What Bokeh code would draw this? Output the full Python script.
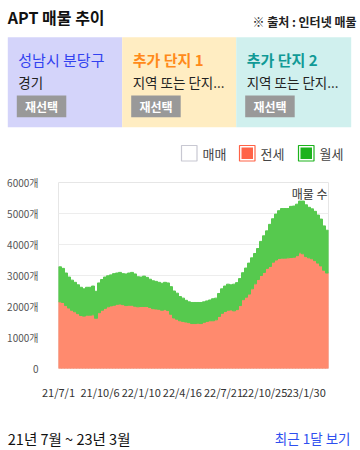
from bokeh.plotting import figure
from bokeh.models import Range1d, FixedTicker, ColumnDataSource
from bokeh.layouts import column
from bokeh.embed import file_html
from bokeh.resources import INLINE
from bokeh.core.properties import value

FONT = "Noto Sans CJK KR"

# ---------------- texts ----------------
TITLE = "APT 매물 추이"
SOURCE_NOTE = "※ 출처 : 인터넷 매물"
PANEL_TITLES = ["성남시 분당구", "추가 단지 1", "추가 단지 2"]
PANEL_SUBS = ["경기", "지역 또는 단지...", "지역 또는 단지..."]
PANEL_BG = ["#D4D4FA", "#FFEDC2", "#D0F0EE"]
PANEL_FG = ["#3242F0", "#FF8A1A", "#109A96"]
PANEL_STYLE = ["normal", "bold", "bold"]
BUTTON_TEXT = "재선택"
PERIOD_TEXT = "21년 7월 ~ 23년 3월"
LINK_TEXT = "최근 1달 보기"
AXIS_TITLE = "매물 수"

SERIES = ["매매", "전세", "월세"]
SWATCH_FILL = ["#FFFFFF", "#FF6347", "#1DB31D"]
SWATCH_LINE = ["#C8C8D2", "#FF6347", "#1DB31D"]
AREA_COLORS = ["#FF8A6E", "#56C94E"]

# ---------------- axes ----------------
TICK_DAYS = [0, 97, 193, 289, 385, 481, 578]
TICK_LABELS = ["21/7/1", "21/10/6", "22/1/10", "22/4/16", "22/7/21", "22/10/25", "23/1/30"]
Y_TICKS = [0, 1000, 2000, 3000, 4000, 5000, 6000]
Y_LABELS = ["0", "1000개", "2000개", "3000개", "4000개", "5000개", "6000개"]

# ---------------- data (weekly, from 2021-07-01) ----------------
JEONSE = [2150, 2130, 2030, 1950, 1880, 1830, 1770, 1710, 1690, 1720,
          1720, 1730, 1620, 1800, 1880, 1940, 1990, 2020, 2040, 2070,
          2080, 2060, 2030, 2040, 2040, 2010, 1990, 2000, 2000, 2000,
          1970, 1930, 1920, 1910, 1880, 1900, 1870, 1750, 1630, 1590,
          1540, 1520, 1500, 1480, 1450, 1450, 1460, 1450, 1490, 1520,
          1540, 1540, 1570, 1680, 1780, 1840, 1880, 1890, 1860, 1900,
          2030, 2220, 2300, 2400, 2570, 2730, 2870, 3000, 3100, 3230,
          3290, 3430, 3500, 3550, 3560, 3560, 3570, 3580, 3590, 3640,
          3730, 3700, 3610, 3570, 3540, 3480, 3400, 3310, 3170, 3080]
WOLSE = [1130, 1100, 1050, 1000, 970, 950, 930, 910, 880, 900,
         900, 930, 870, 960, 990, 1010, 1000, 1000, 1020, 1010,
         1020, 1000, 1020, 1040, 1060, 1040, 970, 950, 980, 940,
         910, 900, 890, 870, 870, 880, 890, 890, 870, 840,
         780, 750, 700, 670, 680, 680, 670, 680, 660, 660,
         670, 710, 700, 740, 790, 820, 840, 810, 860, 870,
         870, 870, 940, 1000, 1000, 980, 1000, 1100, 1180, 1210,
         1360, 1400, 1480, 1540, 1600, 1600, 1590, 1650, 1650, 1660,
         1670, 1700, 1670, 1630, 1610, 1590, 1550, 1510, 1430, 1380]
WEEK_DAYS = [7 * i + 3.5 for i in range(len(JEONSE))]

W = 360


def txt(p, x, y, s, size, color, style="normal", align="left"):
    p.text(x=[x], y=[y], text=[s], text_font=value(FONT),
           text_font_size=value(f"{size}px"), text_color=color,
           text_font_style=style, text_align=align, text_baseline="middle")


def blank(y0, y1):
    f = figure(width=W, height=y1 - y0, x_range=Range1d(0, W),
               y_range=Range1d(y1, y0), toolbar_location=None,
               output_backend="svg", min_border=0, x_axis_location=None,
               y_axis_location=None, outline_line_color=None,
               frame_align=False)
    f.xgrid.visible = False
    f.ygrid.visible = False
    return f


# ---------------- header ----------------
head = blank(0, 173)
txt(head, 7.3, 16, TITLE, 16, "#111111", "bold")
txt(head, 356, 20.5, SOURCE_NOTE, 12, "#222222", "bold", "right")

edges = [7.3, 121.7, 235.7, 350.7]
for i in range(3):
    l, r = edges[i], edges[i + 1]
    head.quad(left=[l], right=[r], top=[36.7], bottom=[126.7],
              fill_color=PANEL_BG[i], line_color=None)
    txt(head, l + 10.5, 59, PANEL_TITLES[i], 15, PANEL_FG[i], PANEL_STYLE[i])
    txt(head, l + 10.5, 81.5, PANEL_SUBS[i], 13.5, "#222222")
    head.quad(left=[l + 9], right=[l + 58.5], top=[95], bottom=[116.7],
              fill_color="#999999", line_color=None)
    txt(head, l + 33.75, 106, BUTTON_TEXT, 12, "#FFFFFF", "bold", "center")

sw_left = [181, 239, 298]
for i in range(3):
    x0 = sw_left[i]
    head.quad(left=[x0], right=[x0 + 15.5], top=[145], bottom=[160.5],
              fill_color="#FFFFFF", line_color=SWATCH_LINE[i], line_width=1.2)
    if i > 0:
        head.quad(left=[x0 + 2], right=[x0 + 13.5], top=[147], bottom=[158.5],
                  fill_color=SWATCH_FILL[i], line_color=None)
    txt(head, x0 + 21, 152.5, SERIES[i], 13, "#444444")

# ---------------- chart ----------------
src = ColumnDataSource(dict(x=WEEK_DAYS, jeonse=JEONSE, wolse=WOLSE))
p = figure(width=W, height=229, x_range=Range1d(0, 630),
           y_range=Range1d(0, 6000), toolbar_location=None,
           output_backend="svg", min_border_left=58, min_border_right=32,
           min_border_top=9, min_border_bottom=25, frame_align=False)
p.vbar_stack(["jeonse", "wolse"], x="x", width=7, source=src,
             color=AREA_COLORS)
p.text(x=[544], y=[5640], text=[AXIS_TITLE], text_font=value(FONT),
       text_font_size=value("12px"), text_color="#333333",
       text_baseline="middle")

p.outline_line_color = "#E6E6E6"
p.xgrid.visible = False
p.ygrid.ticker = FixedTicker(ticks=Y_TICKS)
p.ygrid.grid_line_color = "#EDEDED"

p.xaxis.ticker = FixedTicker(ticks=TICK_DAYS)
p.xaxis.major_label_overrides = dict(zip(TICK_DAYS, TICK_LABELS))
p.yaxis.ticker = FixedTicker(ticks=Y_TICKS)
p.yaxis.major_label_overrides = dict(zip(Y_TICKS, Y_LABELS))
for ax in (p.xaxis, p.yaxis):
    ax.axis_line_color = None
    ax.major_tick_line_color = None
    ax.minor_tick_line_color = None
    ax.major_label_text_font = FONT
    ax.major_label_text_font_size = "11px"
    ax.major_label_text_color = "#333333"
p.yaxis.major_label_text_font_size = "10px"
p.yaxis.major_label_text_color = "#555555"
p.xaxis.major_label_standoff = 9
p.yaxis.major_label_standoff = 14

# ---------------- footer ----------------
foot = blank(402, 450)
txt(foot, 7.3, 437.5, PERIOD_TEXT, 14.5, "#111111")
txt(foot, 350, 437, LINK_TEXT, 13.5, "#2E4FEF", "normal", "right")

layout = column(head, p, foot)
open("out.html", "w").write(file_html(layout, INLINE))
